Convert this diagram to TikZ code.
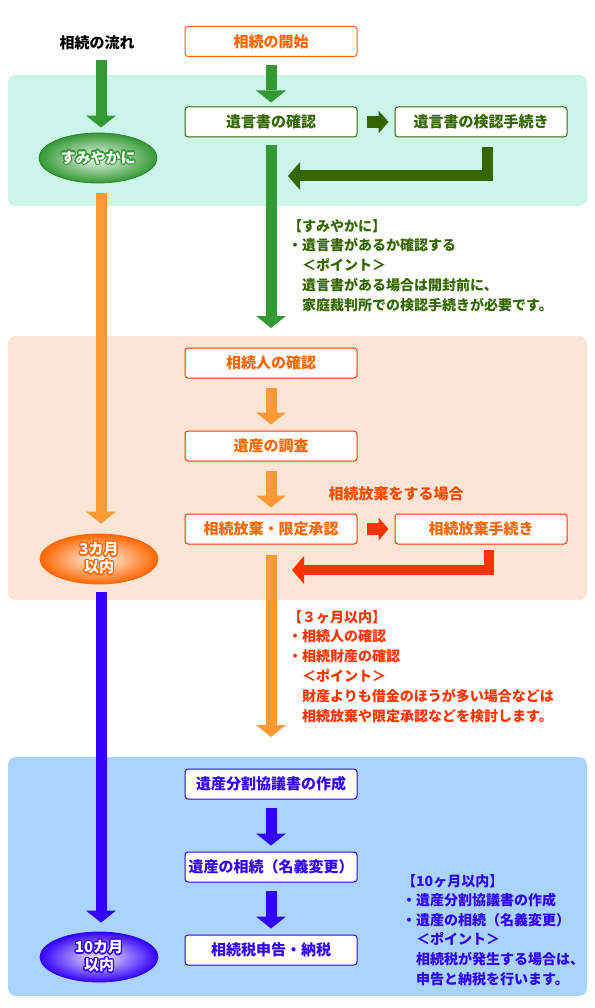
\documentclass[tikz,border=0pt]{standalone}
\usepackage{fontspec}
\setmainfont{Noto Sans CJK JP}
\usepackage{xcolor}
\usepackage{tikz}
\usetikzlibrary{arrows.meta, positioning, shapes.geometric}
\IfFileExists{contour.sty}{\usepackage[copies]{contour}\contourlength{1.3pt}}{}
\makeatletter
\newcommand{\rimtext}[2]{\@ifundefined{contour}{#2}{\contour{#1}{#2}}}
\makeatother
\definecolor{panelgreen}{RGB}{204, 245, 234}
\definecolor{panelpeach}{RGB}{253, 229, 214}
\definecolor{panelblue}{RGB}{168, 212, 255}
\definecolor{arrowgreen}{RGB}{51, 153, 51}
\definecolor{darkolive}{RGB}{51, 102, 0}
\definecolor{startorange}{RGB}{255, 102, 0}
\definecolor{arroworange}{RGB}{255, 153, 51}
\definecolor{alertred}{RGB}{255, 51, 0}
\definecolor{deepblue}{RGB}{51, 0, 255}
\tikzstyle{panel} = [rounded corners=8pt]
\tikzstyle{stagebox} = [rectangle, fill=white, rounded corners=3pt, line width=1pt, minimum width=172pt, minimum height=30pt, inner sep=0pt, font=\fontsize{15}{18}\selectfont\bfseries]
\tikzstyle{notes} = [anchor=north west, align=left, inner sep=0pt, font=\fontsize{14}{19.8}\selectfont\bfseries]
\tikzstyle{oval} = [ellipse, minimum width=118pt, minimum height=50pt, inner sep=0pt, line width=0.8pt, align=center, text=white, font=\fontsize{15}{18}\selectfont\bfseries]
\tikzstyle{fatarrow} = [line width=11pt, -{Triangle[width=30pt, length=12pt, line width=0pt]}]
\tikzstyle{backarrow} = [line width=11pt, -{Triangle[width=28pt, length=12pt, line width=0pt]}]
\tikzstyle{stubarrow} = [line width=12pt, -{Triangle[width=23pt, length=10pt, line width=0pt]}]

\begin{document}
\begin{tikzpicture}[x=1pt, y=-1pt]
    \useasboundingbox (0,0) rectangle (594,1008);

    % Stage panels
    \fill[panelgreen, panel] (8,75) rectangle (587,206);
    \fill[panelpeach, panel] (8,336) rectangle (587,600);
    \fill[panelblue, panel] (8,757) rectangle (587,996);

    % Timeline column
    \node[font=\fontsize{15}{18}\selectfont\bfseries, inner sep=0pt] (flow) at (97,43) {相続の流れ};
    \node[oval, draw=arrowgreen!85!black, inner color=arrowgreen!6!white, outer color=arrowgreen] (soon) at (98,158) {\rimtext{arrowgreen}{すみやかに}};
    \node[oval, draw=startorange, inner color=startorange!5!white, outer color=startorange] (three) at (99,559) {\rimtext{startorange}{3カ月}\\\rimtext{startorange}{以内}};
    \node[oval, draw=deepblue, inner color=deepblue!6!white, outer color=deepblue] (ten) at (99,957) {\rimtext{deepblue}{10カ月}\\\rimtext{deepblue}{以内}};

    % Will stage
    \node[stagebox, draw=startorange, text=startorange] (start) at (271,41.5) {相続の開始};
    \node[stagebox, draw=darkolive, text=darkolive] (will) at (271,122) {遺言書の確認};
    \node[stagebox, draw=darkolive, text=darkolive] (probate) at (481,122) {遺言書の検認手続き};
    \coordinate (willback) at (288,176);
    \coordinate (greentip) at (271,328);
    \node[notes, text=darkolive] (soonnote) at (288,219) {【すみやかに】\\・遺言書があるか確認する\\　＜ポイント＞\\　遺言書がある場合は開封前に、\\　家庭裁判所での検認手続きが必要です。};

    % Three-month stage
    \node[stagebox, draw=alertred, text=startorange] (heirs) at (271,363) {相続人の確認};
    \node[stagebox, draw=alertred, text=startorange] (survey) at (271,446) {遺産の調査};
    \node[stagebox, draw=alertred, text=startorange] (renounce) at (271,529) {相続放棄・限定承認};
    \node[stagebox, draw=alertred, text=startorange] (renproc) at (481,529) {相続放棄手続き};
    \node[font=\fontsize{15}{18}\selectfont\bfseries, text=alertred!55!startorange, inner sep=0pt] (renlabel) at (396,494) {相続放棄をする場合};
    \coordinate (renback) at (292,570);
    \coordinate (orangetip) at (271,737);
    \node[notes, text=alertred] (threenote) at (288,610) {【３ヶ月以内】\\・相続人の確認\\・相続財産の確認\\　＜ポイント＞\\　財産よりも借金のほうが多い場合などは\\　相続放棄や限定承認などを検討します。};

    % Ten-month stage
    \node[stagebox, draw=deepblue, text=deepblue] (division) at (271,784) {遺産分割協議書の作成};
    \node[stagebox, draw=deepblue, text=deepblue] (transfer) at (271,867) {遺産の相続（名義変更）};
    \node[stagebox, draw=deepblue, text=deepblue] (taxreturn) at (271,950) {相続税申告・納税};
    \node[notes, text=deepblue, font=\fontsize{14}{19.6}\selectfont\bfseries] (tennote) at (402,874) {【10ヶ月以内】\\・遺産分割協議書の作成\\・遺産の相続（名義変更）\\　＜ポイント＞\\　相続税が発生する場合は、\\　申告と納税を行います。};

    % Arrows
    \draw[fatarrow, arrowgreen, shorten <=10pt, shorten >=5pt] ([xshift=4pt]flow.south) -- ([xshift=3pt]soon.north);
    \draw[fatarrow, arroworange, shorten <=10pt, shorten >=10pt] ([xshift=3pt]soon.south) -- ([xshift=2pt]three.north);
    \draw[fatarrow, deepblue, shorten <=8pt, shorten >=9pt] ([xshift=2pt]three.south) -- ([xshift=2pt]ten.north);

    \draw[fatarrow, arrowgreen, shorten <=8.5pt, shorten >=4pt] (start) -- (will);
    \draw[stubarrow, darkolive, shorten <=9pt, shorten >=6pt] (will) -- (probate);
    \draw[backarrow, darkolive, shorten <=10pt] ([xshift=6pt]probate.south) |- (willback);
    \draw[fatarrow, arrowgreen, shorten <=8pt] (will) -- (greentip);

    \draw[fatarrow, arroworange, shorten <=9pt, shorten >=6pt] (heirs) -- (survey);
    \draw[fatarrow, arroworange, shorten <=9pt, shorten >=6pt] (survey) -- (renounce);
    \draw[stubarrow, alertred, shorten <=9pt, shorten >=6pt] (renounce) -- (renproc);
    \draw[backarrow, alertred, line width=10pt, shorten <=5pt] ([xshift=8pt]renproc.south) |- (renback);
    \draw[fatarrow, arroworange, shorten <=10pt] (renounce) -- (orangetip);

    \draw[fatarrow, deepblue, shorten <=8.5pt, shorten >=6pt] (division) -- (transfer);
    \draw[fatarrow, deepblue, shorten <=8pt, shorten >=6pt] (transfer) -- (taxreturn);
\end{tikzpicture}
\end{document}
